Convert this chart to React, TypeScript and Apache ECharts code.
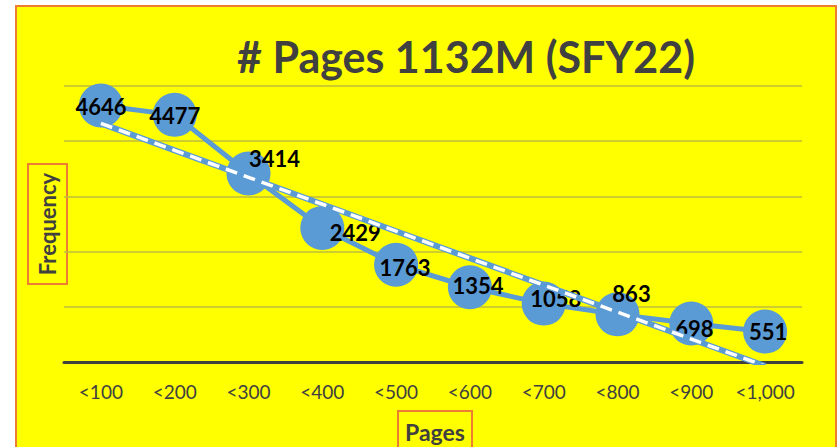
import React, { useEffect, useRef } from "react";
import * as echarts from "echarts";

const categories = ["<100", "<200", "<300", "<400", "<500", "<600", "<700", "<800", "<900", "<1,000"];
const frequency = [4646, 4477, 3414, 2429, 1763, 1354, 1058, 863, 698, 551];
const labelOffsets: [number, number][] = [
  [0, 1], [0, 1], [26, -15], [33, 5], [9, 3], [8, -2], [12, -5], [14, -21], [3, 5], [3, 0],
];
const titleText = "# Pages 1132M (SFY22)";
const xName = "Pages";
const yName = "Frequency";

function linearTrend(values: number[]): number[] {
  const n = values.length;
  const xs = values.map((_, i) => i + 1);
  const mx = xs.reduce((a, b) => a + b, 0) / n;
  const my = values.reduce((a, b) => a + b, 0) / n;
  let sxy = 0, sxx = 0;
  xs.forEach((x, i) => { sxy += (x - mx) * (values[i] - my); sxx += (x - mx) ** 2; });
  const slope = sxy / sxx;
  return xs.map((x) => my + slope * (x - mx));
}

export default function App() {
  const ref = useRef<HTMLDivElement>(null);
  useEffect(() => {
    if (!ref.current) return;
    const chart = echarts.init(ref.current, null, { renderer: "svg" });
    const font = "Lato, 'Open Sans', sans-serif";
    const trend = linearTrend(frequency);
    chart.setOption({
      animation: false,
      backgroundColor: "#ffffff",
      title: {
        text: titleText,
        left: 461,
        top: 30,
        textAlign: "center",
        textStyle: { fontFamily: font, fontSize: 43, fontWeight: "bold", color: "#404040" },
      },
      grid: { left: 64, right: 36, top: 86, bottom: 85 },
      xAxis: {
        type: "category",
        data: categories,
        axisLine: { lineStyle: { color: "#404040", width: 3 } },
        axisTick: { show: false },
        axisLabel: { interval: 0, fontFamily: font, fontSize: 19, color: "#404040", margin: 20 },
      },
      yAxis: {
        type: "value",
        min: 0,
        max: 5000,
        interval: 1000,
        axisLabel: { show: false },
        axisLine: { show: false },
        axisTick: { show: false },
        splitLine: { lineStyle: { color: "#bcbc3c", width: 1.5 } },
      },
      graphic: [
        {
          type: "rect",
          z: -10,
          shape: { x: 16, y: 6, width: 820, height: 460 },
          style: { fill: "#ffff00", stroke: "#ed7d31", lineWidth: 2 },
        },
        {
          type: "rect",
          shape: { x: 28, y: 164, width: 39, height: 120 },
          style: { fill: "transparent", stroke: "#ed7d31", lineWidth: 2 },
        },
        {
          type: "text",
          x: 47,
          y: 224,
          rotation: Math.PI / 2,
          style: {
            text: yName,
            fontFamily: font,
            fontSize: 22,
            fontWeight: "bold",
            fill: "#404040",
            align: "center",
            verticalAlign: "middle",
          },
        },
        {
          type: "rect",
          shape: { x: 398, y: 411, width: 74, height: 50 },
          style: { fill: "transparent", stroke: "#ed7d31", lineWidth: 2 },
        },
        {
          type: "text",
          x: 435,
          y: 432,
          style: {
            text: xName,
            fontFamily: font,
            fontSize: 23,
            fontWeight: "bold",
            fill: "#404040",
            align: "center",
            verticalAlign: "middle",
          },
        },
      ],
      series: [
        {
          type: "line",
          data: frequency,
          symbol: "circle",
          symbolSize: 44,
          itemStyle: { color: "#5b9bd5" },
          lineStyle: { color: "#5b9bd5", width: 5 },
          z: 2,
          label: {
            show: true,
            position: "inside",
            fontFamily: font,
            fontSize: 22,
            fontWeight: "bold",
            color: "#000000",
          },
          labelLayout: (params: any) => ({
            dx: labelOffsets[params.dataIndex][0],
            dy: labelOffsets[params.dataIndex][1],
            hideOverlap: false,
          }),
        },
        {
          type: "line",
          data: trend,
          symbol: "none",
          clip: true,
          lineStyle: { color: "#5b9bd5", width: 6 },
          z: 3,
          silent: true,
        },
        {
          type: "line",
          data: trend,
          symbol: "none",
          clip: true,
          lineStyle: { color: "#ffffff", width: 3.5, type: [12, 7] },
          z: 4,
          silent: true,
        },
      ],
    });
    return () => chart.dispose();
  }, []);
  return (
    <div style={{ position: "fixed", left: 0, top: 0, width: 838, height: 447 }}>
      <div ref={ref} style={{ width: 838, height: 447 }} />
    </div>
  );
}
